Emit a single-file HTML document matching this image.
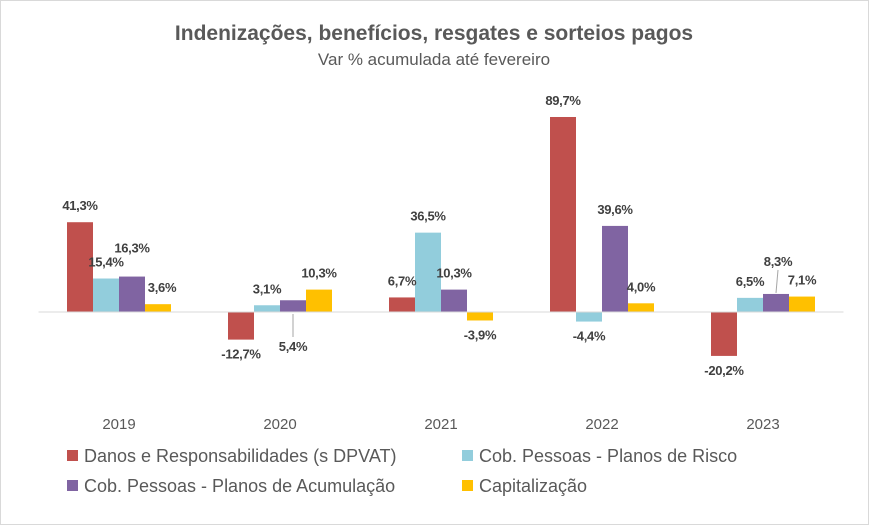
<!DOCTYPE html>
<html><head><meta charset="utf-8">
<style>
html,body{margin:0;padding:0;background:#fff;}
svg{display:block;font-family:"Liberation Sans",sans-serif;}
</style></head>
<body>
<svg id="chart" width="869" height="525" viewBox="0 0 869 525" xmlns="http://www.w3.org/2000/svg">
<rect x="0.5" y="0.5" width="868" height="524" fill="#fff" stroke="#d9d9d9"/>
<text x="434" y="40" text-anchor="middle" font-size="21" font-weight="bold" fill="#595959">Indenizações, benefícios, resgates e sorteios pagos</text>
<text x="434" y="65" text-anchor="middle" font-size="17" fill="#595959">Var % acumulada até fevereiro</text>
<g id="plot"></g>
<g id="legend"></g>
</svg>
<script>
const categories = ["2019","2020","2021","2022","2023"];
const seriesNames = ["Danos e Responsabilidades (s DPVAT)","Cob. Pessoas - Planos de Risco","Cob. Pessoas - Planos de Acumulação","Capitalização"];
const danos = [41.3,-12.7,6.7,89.7,-20.2];
const risco = [15.4,3.1,36.5,-4.4,6.5];
const acumulacao = [16.3,5.4,10.3,39.6,8.3];
const capitalizacao = [3.6,10.3,-3.9,4.0,7.1];
const colors = ["#c0504d","#92cddc","#8064a2","#ffc000"];
const series = [danos,risco,acumulacao,capitalizacao];

const NS="http://www.w3.org/2000/svg";
const zeroY=312, pxPer=2.174, groupW=161, plotX0=38.5, barW=26;
const y = v => zeroY - v*pxPer;
const xCenter = i => plotX0 + groupW*(i+0.5);
const plot=document.getElementById('plot');
function mk(tag,attrs,parent){const e=document.createElementNS(NS,tag);for(const k in attrs)e.setAttribute(k,attrs[k]);parent.appendChild(e);return e;}
const fmt = v => (v<0?"-":"")+Math.abs(v).toFixed(1).replace('.',',')+"%";
const adj = {"2-0":{dx:0,dy:-12},"3-0":{dx:4,dy:0},"2-1":{below:true,dy:16,line:true},"2-4":{dx:2,dy:-16,line:true}};

categories.forEach((c,i)=>{
  const t=mk('text',{x:xCenter(i),y:429,'text-anchor':'middle','font-size':15,fill:'#595959'},plot);
  
  
  t.textContent=c;
});
series.forEach((vals,s)=>{
  vals.forEach((v,i)=>{
    const x=xCenter(i)-2*barW+s*barW;
    const r=mk('rect',{x:x,y:Math.min(y(v),zeroY),width:barW,height:Math.abs(y(v)-zeroY),fill:colors[s]},plot);
    
    
  });
});
mk('line',{x1:plotX0,x2:plotX0+groupW*5,y1:zeroY,y2:zeroY,stroke:'#d9d9d9','stroke-width':1},plot);
series.forEach((vals,s)=>{
  vals.forEach((v,i)=>{
    const cx=xCenter(i)-2*barW+s*barW+barW/2;
    const a=adj[s+'-'+i]||{};
    let ly;
    if(a.below){ly=zeroY+23+(a.dy||0);}
    else if(v>=0){ly=y(v)-12+(a.dy||0);}
    else{ly=y(v)+19+(a.dy||0);}
    const lx=cx+(a.dx||0);
    if(a.line){
      if(a.below) mk('line',{x1:cx,y1:zeroY+2,x2:lx,y2:ly-14,stroke:'#a6a6a6'},plot);
      else mk('line',{x1:cx,y1:y(v)-1,x2:lx,y2:ly+4,stroke:'#a6a6a6'},plot);
    }
    const t=mk('text',{x:lx,y:ly,'text-anchor':'middle','font-size':13,'font-weight':'bold',fill:'#404040','letter-spacing':'-0.3'},plot);
    
    
    t.textContent=fmt(v);
  });
});
const legend=document.getElementById('legend');
const legPos=[[67,462],[462,462],[67,492],[462,492]];
seriesNames.forEach((n,s)=>{
  const g=mk('g',{},legend);
  
  
  mk('rect',{x:legPos[s][0],y:legPos[s][1]-12,width:11,height:11,fill:colors[s]},g);
  const t=mk('text',{x:legPos[s][0]+17,y:legPos[s][1],'font-size':18,fill:'#595959'},g);
  t.textContent=n;
});
</script>
</body></html>
